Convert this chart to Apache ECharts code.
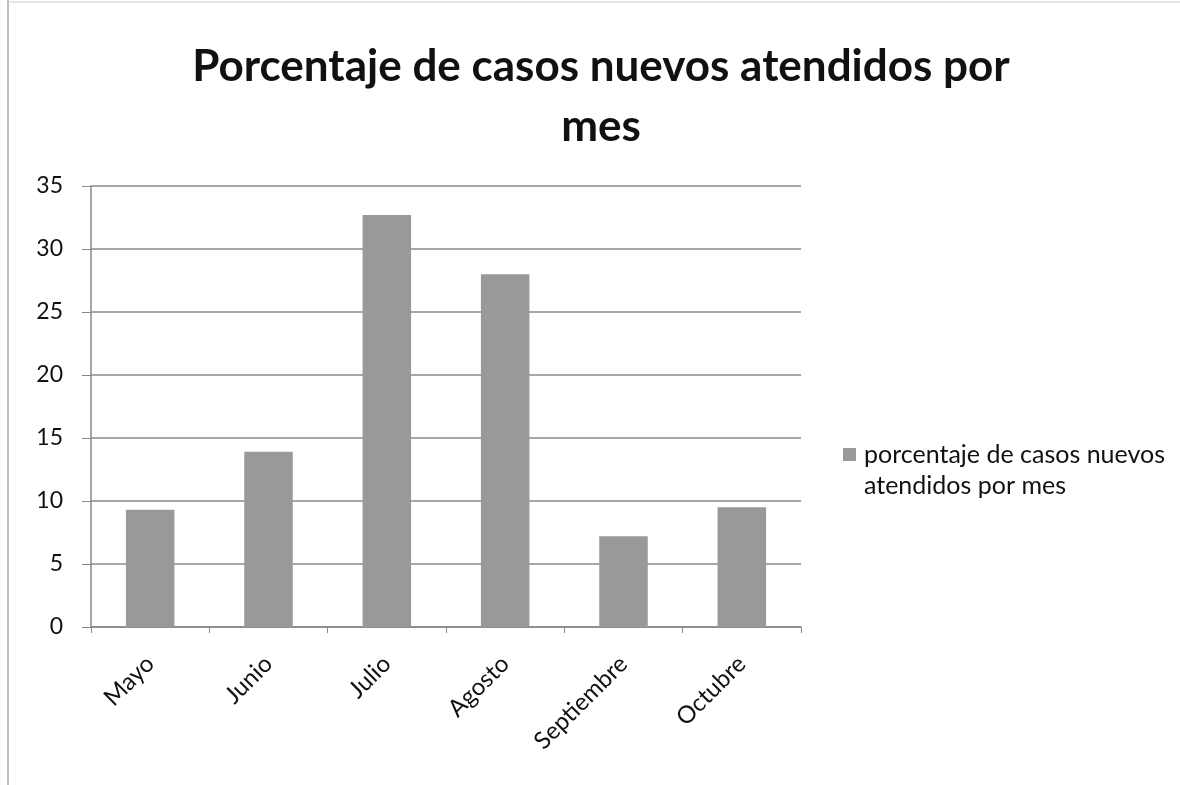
<!DOCTYPE html>
<html>
<head>
<meta charset="utf-8">
<script src="https://cdn.jsdelivr.net/npm/echarts@6/dist/echarts.min.js"></script>
<style>html,body{margin:0;padding:0;background:#fff;}#c{width:1180px;height:785px;}</style>
</head>
<body>
<div id="c"></div>
<script>
const categories = ['Mayo', 'Junio', 'Julio', 'Agosto', 'Septiembre', 'Octubre'];
const values = [9.3, 13.9, 32.7, 28.0, 7.2, 9.5];
const seriesName = 'porcentaje de casos nuevos atendidos por mes';
const titleText = 'Porcentaje de casos nuevos atendidos por\nmes';

const chart = echarts.init(document.getElementById('c'), null, {renderer: 'canvas'});
const font = 'Lato, "Open Sans", sans-serif';
chart.setOption({
  backgroundColor: '#fff',
  animation: false,
  title: {
    text: titleText,
    left: 596,
    textAlign: 'center',
    top: 32,
    textStyle: {fontFamily: font, fontSize: 44, fontWeight: 'bold', color: '#111', lineHeight: 60}
  },
  legend: {
    left: 838,
    top: 434,
    orient: 'vertical',
    icon: 'path://M0,9L13,9L13,22L0,22Z M0,0L0.001,0L0,0.001Z M0,62L0.001,62L0,62.001Z',
    itemWidth: 13,
    itemHeight: 62,
    itemGap: 6,
    formatter: () => 'porcentaje de casos nuevos\natendidos por mes',
    textStyle: {fontFamily: font, fontSize: 25, color: '#111', lineHeight: 31, padding: [0, 0, 0, 3]}
  },
  grid: {left: 91, right: 379, top: 186, bottom: 158, containLabel: false},
  xAxis: {
    type: 'category',
    data: categories,
    axisLine: {lineStyle: {color: '#888', width: 1.5}},
    axisTick: {show: true, length: 6, lineStyle: {color: '#888'}},
    axisLabel: {rotate: 45, margin: 33, fontFamily: font, fontSize: 24, color: '#111'}
  },
  yAxis: {
    type: 'value',
    min: 0, max: 35, interval: 5,
    axisLine: {show: true, lineStyle: {color: '#888', width: 1.5}},
    axisTick: {show: true, length: 9, lineStyle: {color: '#888'}},
    axisLabel: {fontFamily: font, fontSize: 23, color: '#111', margin: 28},
    splitLine: {lineStyle: {color: '#8a8a8a', width: 1.5}}
  },
  series: [{
    name: seriesName,
    type: 'bar',
    data: values,
    barWidth: '41%',
    itemStyle: {color: '#999999'}
  }],
  graphic: [
    {type: 'line', shape: {x1: 8, y1: 0, x2: 8, y2: 785}, style: {stroke: '#aaa', lineWidth: 1.5}},
    {type: 'line', shape: {x1: 8, y1: 2, x2: 1180, y2: 2}, style: {stroke: '#ccc', lineWidth: 1}}
  ]
});
</script>
</body>
</html>
